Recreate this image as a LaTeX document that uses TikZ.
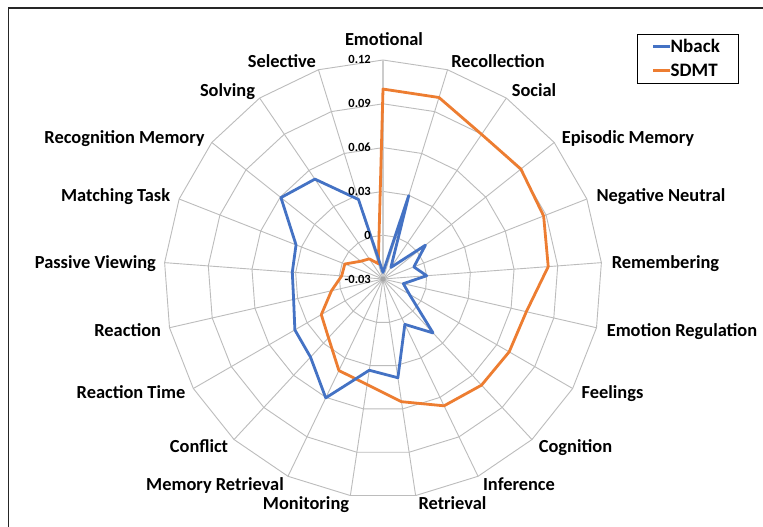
\documentclass[tikz,border=0pt]{standalone}
\usepackage{fontspec}
\setmainfont{Carlito}
\definecolor{gridgray}{RGB}{188,188,188}
\definecolor{nbblue}{RGB}{68,114,196}
\definecolor{sdorange}{RGB}{237,125,49}
\begin{document}
\begin{tikzpicture}[x=1pt,y=-1pt,
  gridline/.style={draw=gridgray,line width=0.9pt},
  series/.style={line width=2.8pt,line join=round,line cap=round},
  cat/.style={font=\bfseries\fontsize{18.4}{20}\selectfont,anchor=center,inner sep=0pt,text height=11.8pt,text depth=0pt},
  tick/.style={font=\bfseries\fontsize{12.5}{14}\selectfont,anchor=east,inner sep=0pt,text height=7.8pt,text depth=0pt},
  legtext/.style={font=\bfseries\fontsize{19}{21}\selectfont,anchor=west,inner sep=0pt,text height=12.2pt,text depth=0pt}]
\useasboundingbox (0,0) rectangle (763,527);
\fill[white] (0,0) rectangle (763,527);
% frame
\draw[black!85,line width=1.5pt] (8.3,527) -- (8.3,8) -- (763,8);
\begin{scope}[shift={(383,279)}]
  % rings
  \foreach \k in {1,...,5}{
    \draw[gridline] (0,{-43.8*\k}) \foreach \i in {1,...,20}{ -- ({43.8*\k*sin(\i*360/21)},{-43.8*\k*cos(\i*360/21)}) } -- cycle;
  }
  % spokes
  \foreach \i in {1,...,20}{
    \draw[gridline] (0,0) -- ({219*sin(\i*360/21)},{-219*cos(\i*360/21)});
  }
  \draw[gray!40,line width=1.8pt] (0,0) -- (0,-219);
  \fill[gray!70] (0,0) circle (2.6);
  % data
  \foreach \v [count=\i from 0] in {-0.0255,0.0298,-0.0204,0.0072,-0.0073,0.0000,-0.0157,-0.0092,0.0204,0.0045,0.0384,0.0332,0.0604,0.0430,0.0397,0.0328,0.0323,0.0340,0.0594,0.0528,0.0270}{
    \coordinate (n\i) at ({(\v+0.03)*1460*sin(\i*360/21)},{-(\v+0.03)*1460*cos(\i*360/21)});
  }
  \foreach \v [count=\i from 0] in {0.1001,0.1001,0.0899,0.0908,0.0882,0.0835,0.0707,0.0698,0.0692,0.0664,0.0550,0.0431,0.0396,0.0249,0.0188,0.0062,-0.0016,-0.0019,-0.0105,-0.0133,-0.0190}{
    \coordinate (s\i) at ({(\v+0.03)*1460*sin(\i*360/21)},{-(\v+0.03)*1460*cos(\i*360/21)});
  }
  \draw[series,draw=sdorange] (s0) \foreach \i in {1,...,20}{ -- (s\i) } -- cycle;
  \draw[series,draw=nbblue] (n0) \foreach \i in {1,...,20}{ -- (n\i) } -- cycle;
\end{scope}
% tick labels
\node[tick] (t0) at (371,60.0) {0.12};
\node[tick] (t1) at (371,103.8) {0.09};
\node[tick] (t2) at (371,147.6) {0.06};
\node[tick] (t3) at (371,191.4) {0.03};
\node[tick] (t4) at (371,235.2) {0};
\node[tick] (t5) at (371,280.0) {-0.03};
% category labels
\node[cat] (c0) at (384,40) {Emotional};
\node[cat] (c1) at (498,62) {Recollection};
\node[cat] (c2) at (534,91) {Social};
\node[cat] (c3) at (628,137.5) {Episodic Memory};
\node[cat] (c4) at (661,196) {Negative Neutral};
\node[cat] (c5) at (665.5,262.5) {Remembering};
\node[cat] (c6) at (682,330.5) {Emotion Regulation};
\node[cat] (c7) at (612.5,393) {Feelings};
\node[cat] (c8) at (575.5,446.5) {Cognition};
\node[cat] (c9) at (519,485) {Inference};
\node[cat] (c10) at (452.5,504) {Retrieval};
\node[cat] (c11) at (306,504) {Monitoring};
\node[cat] (c12) at (215,485) {Memory Retrieval};
\node[cat] (c13) at (199,446.5) {Conflict};
\node[cat] (c14) at (131,393) {Reaction Time};
\node[cat] (c15) at (127.7,330.5) {Reaction};
\node[cat] (c16) at (95.4,262.5) {Passive Viewing};
\node[cat] (c17) at (115.6,196) {Matching Task};
\node[cat] (c18) at (124.6,137.5) {Recognition Memory};
\node[cat] (c19) at (227.5,91) {Solving};
\node[cat] (c20) at (282,62) {Selective};
% legend
\node[draw=black,line width=1.3pt,minimum width=101pt,minimum height=48.7pt,anchor=north west,inner sep=0pt] (leg) at (636.7,34) {};
\coordinate (la1) at (653.3,46.7);
\coordinate (lb1) at (670,46.7);
\coordinate (la2) at (653.3,70.7);
\coordinate (lb2) at (670,70.7);
\draw[nbblue,line width=2.8pt] (la1) -- (lb1);
\draw[sdorange,line width=2.8pt] (la2) -- (lb2);
\node[legtext] (l1) at (670.5,46.7) {Nback};
\node[legtext] (l2) at (670.5,70.7) {SDMT};
\end{tikzpicture}
\end{document}
